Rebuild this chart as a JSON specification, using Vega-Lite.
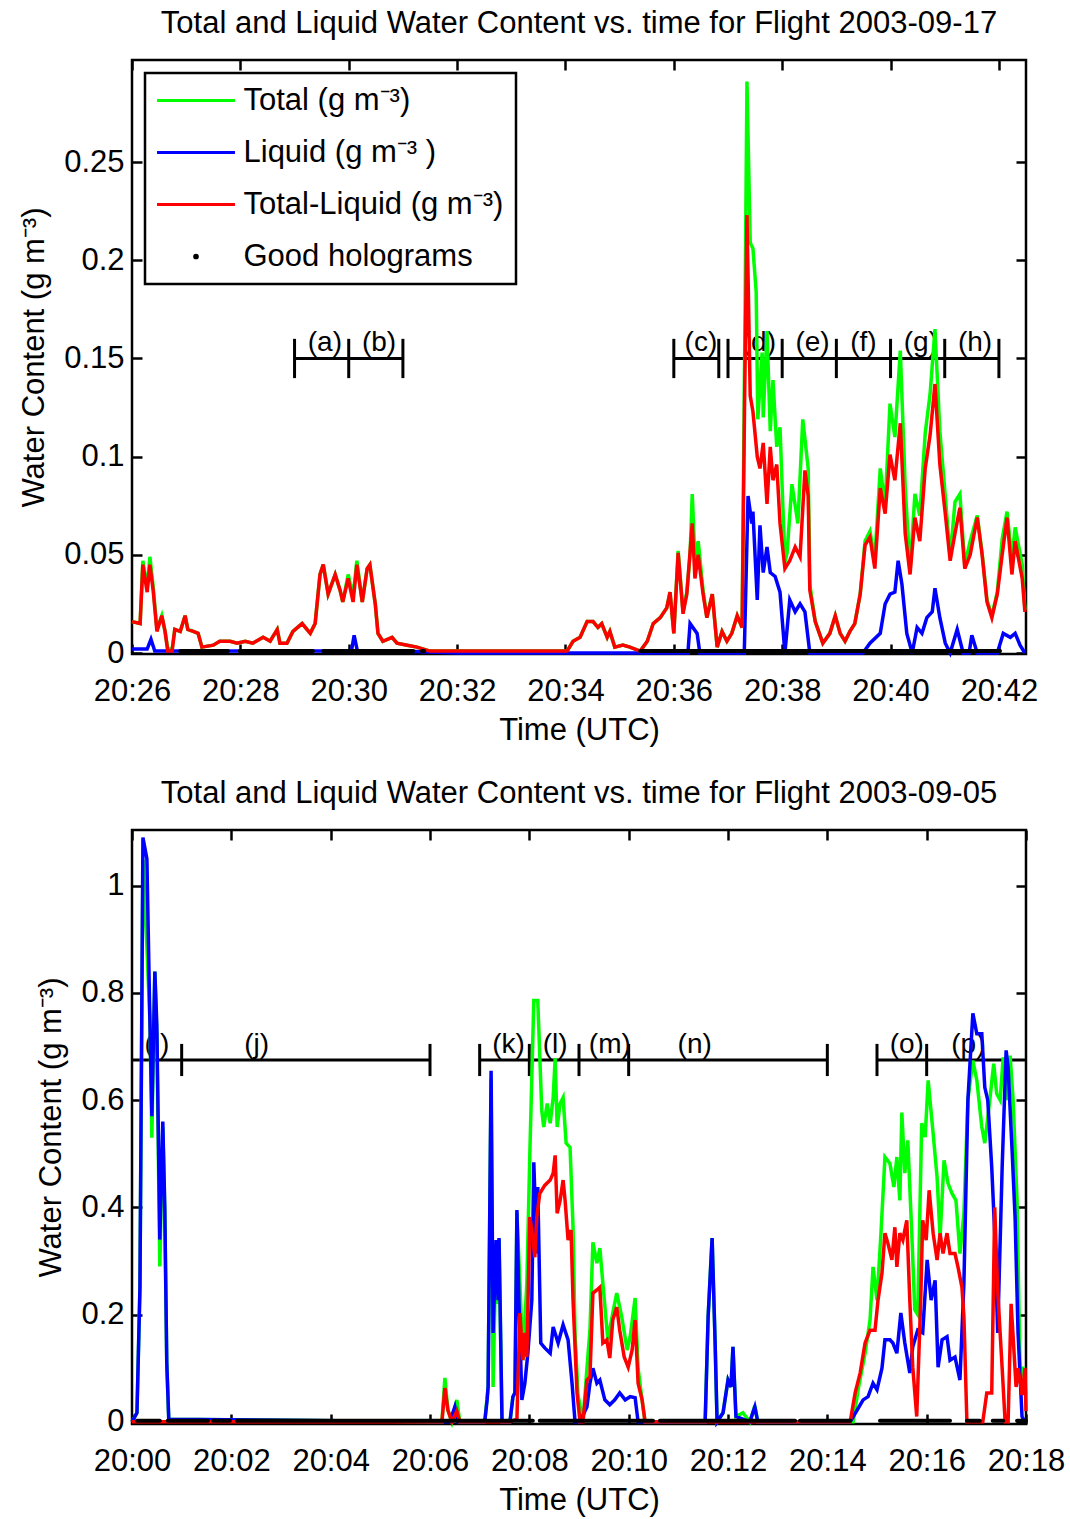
{
  "$schema": "https://vega.github.io/schema/vega-lite/v6.json",
  "background": "white",
  "padding": {"left": 17, "top": 6, "right": 10, "bottom": 5},
  "spacing": 29,
  "config": {
    "font": "Liberation Sans",
    "view": {"stroke": "black", "strokeWidth": 2.5},
    "axis": {"domain": false, "grid": false, "tickColor": "black", "tickWidth": 2.5, "tickSize": -10, "labelFont": "Liberation Sans", "labelFontSize": 31, "labelColor": "black", "titleFont": "Liberation Sans", "titleFontSize": 31, "titleFontWeight": "normal", "titleColor": "black", "labelFlush": false, "labelOverlap": false},
    "axisX": {"labelPadding": 32, "titlePadding": 9},
    "axisY": {"labelPadding": 18, "titlePadding": 13},
    "title": {"font": "Liberation Sans", "fontSize": 31, "fontWeight": "normal", "color": "black", "frame": "group", "anchor": "middle", "baseline": "alphabetic", "offset": 19}
  },
  "resolve": {"scale": {"color": "independent"}, "legend": {"color": "independent"}},
  "datasets": {
    "top": [
      {"s":"T","t":26.0,"v":0.016},{"s":"T","t":26.15,"v":0.015},{"s":"T","t":26.2,"v":0.047},{"s":"T","t":26.28,"v":0.033},{"s":"T","t":26.33,"v":0.049},{"s":"T","t":26.39,"v":0.034},{"s":"T","t":26.46,"v":0.012},{"s":"T","t":26.55,"v":0.019},{"s":"T","t":26.61,"v":0.011},{"s":"T","t":26.66,"v":0.002},{"s":"T","t":26.74,"v":0.002},{"s":"T","t":26.79,"v":0.012},{"s":"T","t":26.89,"v":0.011},{"s":"T","t":26.98,"v":0.019},{"s":"T","t":27.03,"v":0.012},{"s":"T","t":27.13,"v":0.011},{"s":"T","t":27.22,"v":0.01},{"s":"T","t":27.29,"v":0.003},{"s":"T","t":27.5,"v":0.004},{"s":"T","t":27.62,"v":0.006},{"s":"T","t":27.81,"v":0.006},{"s":"T","t":27.94,"v":0.005},{"s":"T","t":28.09,"v":0.006},{"s":"T","t":28.23,"v":0.005},{"s":"T","t":28.42,"v":0.008},{"s":"T","t":28.55,"v":0.006},{"s":"T","t":28.68,"v":0.012},{"s":"T","t":28.73,"v":0.005},{"s":"T","t":28.86,"v":0.005},{"s":"T","t":28.97,"v":0.011},{"s":"T","t":29.14,"v":0.015},{"s":"T","t":29.29,"v":0.01},{"s":"T","t":29.38,"v":0.015},{"s":"T","t":29.47,"v":0.04},{"s":"T","t":29.53,"v":0.045},{"s":"T","t":29.62,"v":0.03},{"s":"T","t":29.75,"v":0.04},{"s":"T","t":29.84,"v":0.032},{"s":"T","t":29.89,"v":0.026},{"s":"T","t":29.99,"v":0.04},{"s":"T","t":30.08,"v":0.029},{"s":"T","t":30.15,"v":0.047},{"s":"T","t":30.25,"v":0.026},{"s":"T","t":30.34,"v":0.043},{"s":"T","t":30.39,"v":0.045},{"s":"T","t":30.49,"v":0.025},{"s":"T","t":30.54,"v":0.01},{"s":"T","t":30.63,"v":0.006},{"s":"T","t":30.8,"v":0.008},{"s":"T","t":30.89,"v":0.005},{"s":"T","t":31.08,"v":0.004},{"s":"T","t":31.26,"v":0.003},{"s":"T","t":31.5,"v":0.001},{"s":"T","t":33.9,"v":0.001},{"s":"T","t":34.03,"v":0.001},{"s":"T","t":34.14,"v":0.006},{"s":"T","t":34.27,"v":0.008},{"s":"T","t":34.4,"v":0.016},{"s":"T","t":34.51,"v":0.016},{"s":"T","t":34.6,"v":0.013},{"s":"T","t":34.67,"v":0.015},{"s":"T","t":34.77,"v":0.008},{"s":"T","t":34.82,"v":0.011},{"s":"T","t":34.91,"v":0.003},{"s":"T","t":35.06,"v":0.004},{"s":"T","t":35.19,"v":0.003},{"s":"T","t":35.38,"v":0.001},{"s":"T","t":35.51,"v":0.006},{"s":"T","t":35.62,"v":0.015},{"s":"T","t":35.75,"v":0.018},{"s":"T","t":35.87,"v":0.023},{"s":"T","t":35.93,"v":0.031},{"s":"T","t":36.0,"v":0.01},{"s":"T","t":36.08,"v":0.052},{"s":"T","t":36.17,"v":0.021},{"s":"T","t":36.24,"v":0.031},{"s":"T","t":36.3,"v":0.05},{"s":"T","t":36.34,"v":0.081},{"s":"T","t":36.39,"v":0.048},{"s":"T","t":36.45,"v":0.057},{"s":"T","t":36.54,"v":0.032},{"s":"T","t":36.61,"v":0.018},{"s":"T","t":36.71,"v":0.03},{"s":"T","t":36.8,"v":0.003},{"s":"T","t":36.89,"v":0.011},{"s":"T","t":36.98,"v":0.006},{"s":"T","t":37.07,"v":0.01},{"s":"T","t":37.17,"v":0.019},{"s":"T","t":37.26,"v":0.013},{"s":"T","t":37.31,"v":0.16},{"s":"T","t":37.35,"v":0.291},{"s":"T","t":37.41,"v":0.209},{"s":"T","t":37.46,"v":0.206},{"s":"T","t":37.52,"v":0.184},{"s":"T","t":37.55,"v":0.119},{"s":"T","t":37.63,"v":0.153},{"s":"T","t":37.65,"v":0.12},{"s":"T","t":37.72,"v":0.164},{"s":"T","t":37.78,"v":0.113},{"s":"T","t":37.83,"v":0.139},{"s":"T","t":37.9,"v":0.105},{"s":"T","t":37.96,"v":0.115},{"s":"T","t":38.05,"v":0.046},{"s":"T","t":38.09,"v":0.051},{"s":"T","t":38.18,"v":0.086},{"s":"T","t":38.29,"v":0.066},{"s":"T","t":38.38,"v":0.119},{"s":"T","t":38.48,"v":0.094},{"s":"T","t":38.51,"v":0.035},{"s":"T","t":38.61,"v":0.016},{"s":"T","t":38.75,"v":0.005},{"s":"T","t":38.88,"v":0.01},{"s":"T","t":38.98,"v":0.019},{"s":"T","t":39.07,"v":0.01},{"s":"T","t":39.16,"v":0.006},{"s":"T","t":39.25,"v":0.011},{"s":"T","t":39.34,"v":0.015},{"s":"T","t":39.44,"v":0.03},{"s":"T","t":39.53,"v":0.057},{"s":"T","t":39.62,"v":0.062},{"s":"T","t":39.71,"v":0.048},{"s":"T","t":39.81,"v":0.094},{"s":"T","t":39.9,"v":0.075},{"s":"T","t":39.99,"v":0.127},{"s":"T","t":40.08,"v":0.11},{"s":"T","t":40.18,"v":0.154},{"s":"T","t":40.27,"v":0.085},{"s":"T","t":40.36,"v":0.042},{"s":"T","t":40.45,"v":0.081},{"s":"T","t":40.54,"v":0.07},{"s":"T","t":40.64,"v":0.112},{"s":"T","t":40.73,"v":0.132},{"s":"T","t":40.82,"v":0.165},{"s":"T","t":40.91,"v":0.113},{"s":"T","t":41.01,"v":0.08},{"s":"T","t":41.1,"v":0.049},{"s":"T","t":41.19,"v":0.077},{"s":"T","t":41.28,"v":0.081},{"s":"T","t":41.37,"v":0.045},{"s":"T","t":41.47,"v":0.057},{"s":"T","t":41.6,"v":0.07},{"s":"T","t":41.69,"v":0.051},{"s":"T","t":41.78,"v":0.027},{"s":"T","t":41.87,"v":0.019},{"s":"T","t":41.97,"v":0.031},{"s":"T","t":42.06,"v":0.058},{"s":"T","t":42.15,"v":0.072},{"s":"T","t":42.24,"v":0.048},{"s":"T","t":42.3,"v":0.064},{"s":"T","t":42.43,"v":0.045},{"s":"T","t":42.48,"v":0.022},
      {"s":"L","t":26.0,"v":0.002},{"s":"L","t":26.28,"v":0.002},{"s":"L","t":26.35,"v":0.007},{"s":"L","t":26.42,"v":0.001},{"s":"L","t":27.0,"v":0.001},{"s":"L","t":28.0,"v":0.001},{"s":"L","t":29.0,"v":0.001},{"s":"L","t":30.05,"v":0.001},{"s":"L","t":30.1,"v":0.009},{"s":"L","t":30.16,"v":0.001},{"s":"L","t":31.0,"v":0.001},{"s":"L","t":32.0,"v":0.0},{"s":"L","t":36.26,"v":0.0},{"s":"L","t":36.3,"v":0.015},{"s":"L","t":36.43,"v":0.01},{"s":"L","t":36.48,"v":0.0},{"s":"L","t":37.3,"v":0.0},{"s":"L","t":37.37,"v":0.08},{"s":"L","t":37.44,"v":0.066},{"s":"L","t":37.46,"v":0.072},{"s":"L","t":37.54,"v":0.027},{"s":"L","t":37.59,"v":0.065},{"s":"L","t":37.65,"v":0.041},{"s":"L","t":37.72,"v":0.054},{"s":"L","t":37.78,"v":0.041},{"s":"L","t":37.87,"v":0.039},{"s":"L","t":37.96,"v":0.031},{"s":"L","t":38.05,"v":0.0},{"s":"L","t":38.14,"v":0.027},{"s":"L","t":38.24,"v":0.021},{"s":"L","t":38.33,"v":0.025},{"s":"L","t":38.42,"v":0.021},{"s":"L","t":38.51,"v":0.0},{"s":"L","t":39.49,"v":0.0},{"s":"L","t":39.62,"v":0.005},{"s":"L","t":39.81,"v":0.01},{"s":"L","t":39.9,"v":0.025},{"s":"L","t":39.99,"v":0.03},{"s":"L","t":40.08,"v":0.031},{"s":"L","t":40.14,"v":0.047},{"s":"L","t":40.21,"v":0.035},{"s":"L","t":40.3,"v":0.01},{"s":"L","t":40.4,"v":0.0},{"s":"L","t":40.49,"v":0.013},{"s":"L","t":40.58,"v":0.01},{"s":"L","t":40.67,"v":0.018},{"s":"L","t":40.77,"v":0.021},{"s":"L","t":40.82,"v":0.033},{"s":"L","t":40.91,"v":0.018},{"s":"L","t":41.01,"v":0.005},{"s":"L","t":41.1,"v":0.0},{"s":"L","t":41.23,"v":0.012},{"s":"L","t":41.34,"v":0.0},{"s":"L","t":41.45,"v":0.0},{"s":"L","t":41.5,"v":0.009},{"s":"L","t":41.6,"v":0.0},{"s":"L","t":41.97,"v":0.0},{"s":"L","t":42.08,"v":0.01},{"s":"L","t":42.21,"v":0.008},{"s":"L","t":42.3,"v":0.01},{"s":"L","t":42.39,"v":0.004},{"s":"L","t":42.48,"v":0.0},
      {"s":"R","t":26.0,"v":0.016},{"s":"R","t":26.15,"v":0.015},{"s":"R","t":26.2,"v":0.045},{"s":"R","t":26.28,"v":0.031},{"s":"R","t":26.33,"v":0.045},{"s":"R","t":26.39,"v":0.032},{"s":"R","t":26.46,"v":0.011},{"s":"R","t":26.55,"v":0.019},{"s":"R","t":26.61,"v":0.011},{"s":"R","t":26.66,"v":0.001},{"s":"R","t":26.74,"v":0.001},{"s":"R","t":26.79,"v":0.012},{"s":"R","t":26.89,"v":0.011},{"s":"R","t":26.98,"v":0.019},{"s":"R","t":27.03,"v":0.012},{"s":"R","t":27.13,"v":0.011},{"s":"R","t":27.22,"v":0.01},{"s":"R","t":27.29,"v":0.003},{"s":"R","t":27.5,"v":0.004},{"s":"R","t":27.62,"v":0.006},{"s":"R","t":27.81,"v":0.006},{"s":"R","t":27.94,"v":0.005},{"s":"R","t":28.09,"v":0.006},{"s":"R","t":28.23,"v":0.005},{"s":"R","t":28.42,"v":0.008},{"s":"R","t":28.55,"v":0.006},{"s":"R","t":28.68,"v":0.012},{"s":"R","t":28.73,"v":0.005},{"s":"R","t":28.86,"v":0.005},{"s":"R","t":28.97,"v":0.011},{"s":"R","t":29.14,"v":0.015},{"s":"R","t":29.29,"v":0.01},{"s":"R","t":29.38,"v":0.015},{"s":"R","t":29.47,"v":0.04},{"s":"R","t":29.53,"v":0.045},{"s":"R","t":29.62,"v":0.03},{"s":"R","t":29.75,"v":0.04},{"s":"R","t":29.84,"v":0.032},{"s":"R","t":29.89,"v":0.026},{"s":"R","t":29.99,"v":0.038},{"s":"R","t":30.08,"v":0.026},{"s":"R","t":30.15,"v":0.045},{"s":"R","t":30.25,"v":0.026},{"s":"R","t":30.34,"v":0.043},{"s":"R","t":30.39,"v":0.045},{"s":"R","t":30.49,"v":0.025},{"s":"R","t":30.54,"v":0.01},{"s":"R","t":30.63,"v":0.006},{"s":"R","t":30.8,"v":0.008},{"s":"R","t":30.89,"v":0.005},{"s":"R","t":31.08,"v":0.004},{"s":"R","t":31.26,"v":0.003},{"s":"R","t":31.5,"v":0.001},{"s":"R","t":33.9,"v":0.001},{"s":"R","t":34.03,"v":0.001},{"s":"R","t":34.14,"v":0.006},{"s":"R","t":34.27,"v":0.008},{"s":"R","t":34.4,"v":0.016},{"s":"R","t":34.51,"v":0.016},{"s":"R","t":34.6,"v":0.013},{"s":"R","t":34.67,"v":0.015},{"s":"R","t":34.77,"v":0.008},{"s":"R","t":34.82,"v":0.011},{"s":"R","t":34.91,"v":0.003},{"s":"R","t":35.06,"v":0.004},{"s":"R","t":35.19,"v":0.003},{"s":"R","t":35.38,"v":0.001},{"s":"R","t":35.51,"v":0.006},{"s":"R","t":35.62,"v":0.015},{"s":"R","t":35.75,"v":0.018},{"s":"R","t":35.87,"v":0.023},{"s":"R","t":35.93,"v":0.031},{"s":"R","t":36.0,"v":0.01},{"s":"R","t":36.08,"v":0.051},{"s":"R","t":36.17,"v":0.02},{"s":"R","t":36.24,"v":0.03},{"s":"R","t":36.34,"v":0.066},{"s":"R","t":36.39,"v":0.038},{"s":"R","t":36.45,"v":0.05},{"s":"R","t":36.54,"v":0.03},{"s":"R","t":36.61,"v":0.018},{"s":"R","t":36.71,"v":0.03},{"s":"R","t":36.8,"v":0.003},{"s":"R","t":36.89,"v":0.011},{"s":"R","t":36.98,"v":0.006},{"s":"R","t":37.07,"v":0.01},{"s":"R","t":37.17,"v":0.019},{"s":"R","t":37.26,"v":0.013},{"s":"R","t":37.31,"v":0.137},{"s":"R","t":37.35,"v":0.223},{"s":"R","t":37.41,"v":0.131},{"s":"R","t":37.46,"v":0.123},{"s":"R","t":37.54,"v":0.1},{"s":"R","t":37.59,"v":0.094},{"s":"R","t":37.65,"v":0.107},{"s":"R","t":37.72,"v":0.076},{"s":"R","t":37.78,"v":0.105},{"s":"R","t":37.83,"v":0.088},{"s":"R","t":37.9,"v":0.096},{"s":"R","t":37.96,"v":0.066},{"s":"R","t":38.05,"v":0.043},{"s":"R","t":38.14,"v":0.047},{"s":"R","t":38.24,"v":0.054},{"s":"R","t":38.33,"v":0.049},{"s":"R","t":38.42,"v":0.093},{"s":"R","t":38.48,"v":0.08},{"s":"R","t":38.51,"v":0.032},{"s":"R","t":38.61,"v":0.016},{"s":"R","t":38.75,"v":0.005},{"s":"R","t":38.88,"v":0.01},{"s":"R","t":38.98,"v":0.019},{"s":"R","t":39.07,"v":0.01},{"s":"R","t":39.16,"v":0.006},{"s":"R","t":39.25,"v":0.011},{"s":"R","t":39.34,"v":0.015},{"s":"R","t":39.44,"v":0.03},{"s":"R","t":39.53,"v":0.055},{"s":"R","t":39.62,"v":0.059},{"s":"R","t":39.71,"v":0.043},{"s":"R","t":39.81,"v":0.084},{"s":"R","t":39.9,"v":0.071},{"s":"R","t":39.99,"v":0.101},{"s":"R","t":40.08,"v":0.088},{"s":"R","t":40.18,"v":0.117},{"s":"R","t":40.27,"v":0.061},{"s":"R","t":40.36,"v":0.04},{"s":"R","t":40.45,"v":0.069},{"s":"R","t":40.54,"v":0.057},{"s":"R","t":40.64,"v":0.094},{"s":"R","t":40.73,"v":0.111},{"s":"R","t":40.82,"v":0.137},{"s":"R","t":40.91,"v":0.096},{"s":"R","t":41.01,"v":0.071},{"s":"R","t":41.1,"v":0.047},{"s":"R","t":41.19,"v":0.061},{"s":"R","t":41.28,"v":0.074},{"s":"R","t":41.37,"v":0.043},{"s":"R","t":41.47,"v":0.05},{"s":"R","t":41.6,"v":0.069},{"s":"R","t":41.69,"v":0.05},{"s":"R","t":41.78,"v":0.026},{"s":"R","t":41.87,"v":0.018},{"s":"R","t":41.97,"v":0.03},{"s":"R","t":42.06,"v":0.05},{"s":"R","t":42.15,"v":0.069},{"s":"R","t":42.24,"v":0.04},{"s":"R","t":42.3,"v":0.057},{"s":"R","t":42.43,"v":0.038},{"s":"R","t":42.48,"v":0.021}
    ],
    "bottom": [
      {"s":"T","t":0.0,"v":0.0},{"s":"T","t":0.1,"v":0.017},{"s":"T","t":0.16,"v":0.25},{"s":"T","t":0.22,"v":1.05},{"s":"T","t":0.28,"v":0.93},{"s":"T","t":0.36,"v":0.75},{"s":"T","t":0.4,"v":0.53},{"s":"T","t":0.46,"v":0.84},{"s":"T","t":0.5,"v":0.72},{"s":"T","t":0.56,"v":0.29},{"s":"T","t":0.62,"v":0.55},{"s":"T","t":0.66,"v":0.39},{"s":"T","t":0.7,"v":0.11},{"s":"T","t":0.74,"v":0.005},{"s":"T","t":6.24,"v":0.0},{"s":"T","t":6.3,"v":0.082},{"s":"T","t":6.36,"v":0.022},{"s":"T","t":6.44,"v":0.0},{"s":"T","t":6.54,"v":0.041},{"s":"T","t":6.6,"v":0.0},{"s":"T","t":7.09,"v":0.0},{"s":"T","t":7.11,"v":0.007},{"s":"T","t":7.17,"v":0.065},{"s":"T","t":7.23,"v":0.64},{"s":"T","t":7.27,"v":0.065},{"s":"T","t":7.33,"v":0.33},{"s":"T","t":7.37,"v":0.22},{"s":"T","t":7.39,"v":0.34},{"s":"T","t":7.45,"v":0.0},{"s":"T","t":7.61,"v":0.0},{"s":"T","t":7.67,"v":0.047},{"s":"T","t":7.71,"v":0.054},{"s":"T","t":7.75,"v":0.39},{"s":"T","t":7.81,"v":0.259},{"s":"T","t":7.87,"v":0.115},{"s":"T","t":7.95,"v":0.259},{"s":"T","t":8.01,"v":0.5},{"s":"T","t":8.09,"v":0.786},{"s":"T","t":8.17,"v":0.786},{"s":"T","t":8.25,"v":0.581},{"s":"T","t":8.29,"v":0.55},{"s":"T","t":8.36,"v":0.594},{"s":"T","t":8.42,"v":0.557},{"s":"T","t":8.48,"v":0.605},{"s":"T","t":8.52,"v":0.678},{"s":"T","t":8.56,"v":0.55},{"s":"T","t":8.62,"v":0.594},{"s":"T","t":8.68,"v":0.605},{"s":"T","t":8.74,"v":0.52},{"s":"T","t":8.82,"v":0.512},{"s":"T","t":8.88,"v":0.363},{"s":"T","t":8.92,"v":0.166},{"s":"T","t":8.98,"v":0.05},{"s":"T","t":9.08,"v":0.0},{"s":"T","t":9.16,"v":0.1},{"s":"T","t":9.22,"v":0.17},{"s":"T","t":9.28,"v":0.335},{"s":"T","t":9.36,"v":0.296},{"s":"T","t":9.42,"v":0.324},{"s":"T","t":9.48,"v":0.259},{"s":"T","t":9.58,"v":0.153},{"s":"T","t":9.68,"v":0.203},{"s":"T","t":9.76,"v":0.24},{"s":"T","t":9.86,"v":0.196},{"s":"T","t":9.97,"v":0.134},{"s":"T","t":10.03,"v":0.159},{"s":"T","t":10.13,"v":0.231},{"s":"T","t":10.19,"v":0.1},{"s":"T","t":10.27,"v":0.041},{"s":"T","t":10.33,"v":0.0},{"s":"T","t":11.54,"v":0.0},{"s":"T","t":11.6,"v":0.196},{"s":"T","t":11.68,"v":0.343},{"s":"T","t":11.74,"v":0.15},{"s":"T","t":11.78,"v":0.0},{"s":"T","t":11.9,"v":0.017},{"s":"T","t":12.0,"v":0.078},{"s":"T","t":12.06,"v":0.065},{"s":"T","t":12.1,"v":0.14},{"s":"T","t":12.16,"v":0.01},{"s":"T","t":12.3,"v":0.017},{"s":"T","t":12.44,"v":0.0},{"s":"T","t":12.54,"v":0.03},{"s":"T","t":12.6,"v":0.0},{"s":"T","t":14.46,"v":0.0},{"s":"T","t":14.52,"v":0.0},{"s":"T","t":14.62,"v":0.06},{"s":"T","t":14.76,"v":0.128},{"s":"T","t":14.86,"v":0.19},{"s":"T","t":14.92,"v":0.289},{"s":"T","t":15.0,"v":0.227},{"s":"T","t":15.08,"v":0.352},{"s":"T","t":15.16,"v":0.494},{"s":"T","t":15.26,"v":0.482},{"s":"T","t":15.34,"v":0.438},{"s":"T","t":15.4,"v":0.494},{"s":"T","t":15.46,"v":0.413},{"s":"T","t":15.5,"v":0.577},{"s":"T","t":15.56,"v":0.464},{"s":"T","t":15.62,"v":0.525},{"s":"T","t":15.7,"v":0.352},{"s":"T","t":15.76,"v":0.209},{"s":"T","t":15.82,"v":0.2},{"s":"T","t":15.9,"v":0.557},{"s":"T","t":15.97,"v":0.531},{"s":"T","t":16.03,"v":0.637},{"s":"T","t":16.13,"v":0.538},{"s":"T","t":16.21,"v":0.456},{"s":"T","t":16.27,"v":0.345},{"s":"T","t":16.35,"v":0.488},{"s":"T","t":16.43,"v":0.445},{"s":"T","t":16.51,"v":0.426},{"s":"T","t":16.59,"v":0.413},{"s":"T","t":16.67,"v":0.314},{"s":"T","t":16.75,"v":0.389},{"s":"T","t":16.83,"v":0.6},{"s":"T","t":16.93,"v":0.674},{"s":"T","t":17.01,"v":0.637},{"s":"T","t":17.11,"v":0.55},{"s":"T","t":17.17,"v":0.52},{"s":"T","t":17.27,"v":0.6},{"s":"T","t":17.35,"v":0.668},{"s":"T","t":17.41,"v":0.612},{"s":"T","t":17.48,"v":0.6},{"s":"T","t":17.54,"v":0.68},{"s":"T","t":17.62,"v":0.6},{"s":"T","t":17.68,"v":0.683},{"s":"T","t":17.74,"v":0.6},{"s":"T","t":17.82,"v":0.413},{"s":"T","t":17.88,"v":0.1},{"s":"T","t":17.94,"v":0.1},{"s":"T","t":18.0,"v":0.05},
      {"s":"L","t":0.0,"v":0.0},{"s":"L","t":0.1,"v":0.017},{"s":"L","t":0.16,"v":0.25},{"s":"L","t":0.22,"v":1.09},{"s":"L","t":0.3,"v":1.05},{"s":"L","t":0.36,"v":0.75},{"s":"L","t":0.4,"v":0.57},{"s":"L","t":0.46,"v":0.84},{"s":"L","t":0.5,"v":0.74},{"s":"L","t":0.56,"v":0.34},{"s":"L","t":0.62,"v":0.56},{"s":"L","t":0.66,"v":0.4},{"s":"L","t":0.7,"v":0.11},{"s":"L","t":0.74,"v":0.005},{"s":"L","t":6.4,"v":0.0},{"s":"L","t":6.5,"v":0.028},{"s":"L","t":6.56,"v":0.0},{"s":"L","t":7.09,"v":0.0},{"s":"L","t":7.11,"v":0.007},{"s":"L","t":7.15,"v":0.041},{"s":"L","t":7.17,"v":0.065},{"s":"L","t":7.23,"v":0.655},{"s":"L","t":7.27,"v":0.166},{"s":"L","t":7.33,"v":0.339},{"s":"L","t":7.37,"v":0.227},{"s":"L","t":7.39,"v":0.343},{"s":"L","t":7.45,"v":0.0},{"s":"L","t":7.61,"v":0.0},{"s":"L","t":7.67,"v":0.047},{"s":"L","t":7.71,"v":0.054},{"s":"L","t":7.75,"v":0.395},{"s":"L","t":7.79,"v":0.227},{"s":"L","t":7.85,"v":0.041},{"s":"L","t":7.91,"v":0.072},{"s":"L","t":7.97,"v":0.128},{"s":"L","t":8.05,"v":0.227},{"s":"L","t":8.09,"v":0.484},{"s":"L","t":8.15,"v":0.314},{"s":"L","t":8.17,"v":0.438},{"s":"L","t":8.23,"v":0.147},{"s":"L","t":8.31,"v":0.138},{"s":"L","t":8.42,"v":0.128},{"s":"L","t":8.48,"v":0.177},{"s":"L","t":8.58,"v":0.147},{"s":"L","t":8.68,"v":0.181},{"s":"L","t":8.78,"v":0.153},{"s":"L","t":8.86,"v":0.072},{"s":"L","t":8.92,"v":0.0},{"s":"L","t":9.02,"v":0.0},{"s":"L","t":9.16,"v":0.028},{"s":"L","t":9.22,"v":0.072},{"s":"L","t":9.28,"v":0.1},{"s":"L","t":9.36,"v":0.072},{"s":"L","t":9.42,"v":0.078},{"s":"L","t":9.52,"v":0.041},{"s":"L","t":9.62,"v":0.032},{"s":"L","t":9.72,"v":0.041},{"s":"L","t":9.82,"v":0.054},{"s":"L","t":9.93,"v":0.041},{"s":"L","t":10.03,"v":0.047},{"s":"L","t":10.13,"v":0.045},{"s":"L","t":10.19,"v":0.0},{"s":"L","t":11.54,"v":0.0},{"s":"L","t":11.6,"v":0.196},{"s":"L","t":11.68,"v":0.343},{"s":"L","t":11.74,"v":0.15},{"s":"L","t":11.78,"v":0.0},{"s":"L","t":11.9,"v":0.017},{"s":"L","t":12.0,"v":0.078},{"s":"L","t":12.06,"v":0.065},{"s":"L","t":12.1,"v":0.14},{"s":"L","t":12.16,"v":0.01},{"s":"L","t":12.3,"v":0.005},{"s":"L","t":12.44,"v":0.0},{"s":"L","t":12.54,"v":0.028},{"s":"L","t":12.6,"v":0.0},{"s":"L","t":14.46,"v":0.0},{"s":"L","t":14.6,"v":0.022},{"s":"L","t":14.72,"v":0.041},{"s":"L","t":14.82,"v":0.047},{"s":"L","t":14.92,"v":0.072},{"s":"L","t":15.0,"v":0.06},{"s":"L","t":15.1,"v":0.1},{"s":"L","t":15.16,"v":0.153},{"s":"L","t":15.26,"v":0.153},{"s":"L","t":15.32,"v":0.147},{"s":"L","t":15.4,"v":0.128},{"s":"L","t":15.48,"v":0.203},{"s":"L","t":15.56,"v":0.147},{"s":"L","t":15.66,"v":0.091},{"s":"L","t":15.72,"v":0.14},{"s":"L","t":15.82,"v":0.171},{"s":"L","t":15.92,"v":0.166},{"s":"L","t":16.01,"v":0.302},{"s":"L","t":16.09,"v":0.227},{"s":"L","t":16.17,"v":0.264},{"s":"L","t":16.23,"v":0.102},{"s":"L","t":16.31,"v":0.153},{"s":"L","t":16.41,"v":0.159},{"s":"L","t":16.47,"v":0.115},{"s":"L","t":16.57,"v":0.121},{"s":"L","t":16.67,"v":0.078},{"s":"L","t":16.75,"v":0.259},{"s":"L","t":16.83,"v":0.6},{"s":"L","t":16.93,"v":0.762},{"s":"L","t":17.01,"v":0.724},{"s":"L","t":17.11,"v":0.724},{"s":"L","t":17.17,"v":0.624},{"s":"L","t":17.23,"v":0.6},{"s":"L","t":17.31,"v":0.475},{"s":"L","t":17.37,"v":0.352},{"s":"L","t":17.43,"v":0.166},{"s":"L","t":17.52,"v":0.475},{"s":"L","t":17.6,"v":0.693},{"s":"L","t":17.64,"v":0.661},{"s":"L","t":17.72,"v":0.506},{"s":"L","t":17.78,"v":0.382},{"s":"L","t":17.84,"v":0.166},{"s":"L","t":17.92,"v":0.01},{"s":"L","t":17.98,"v":0.0},
      {"s":"R","t":0.0,"v":0.0},{"s":"R","t":6.24,"v":0.0},{"s":"R","t":6.3,"v":0.063},{"s":"R","t":6.36,"v":0.022},{"s":"R","t":6.44,"v":0.0},{"s":"R","t":6.54,"v":0.02},{"s":"R","t":6.6,"v":0.0},{"s":"R","t":7.61,"v":0.0},{"s":"R","t":7.75,"v":0.005},{"s":"R","t":7.81,"v":0.203},{"s":"R","t":7.87,"v":0.115},{"s":"R","t":7.91,"v":0.166},{"s":"R","t":7.95,"v":0.121},{"s":"R","t":8.01,"v":0.382},{"s":"R","t":8.07,"v":0.345},{"s":"R","t":8.11,"v":0.307},{"s":"R","t":8.15,"v":0.382},{"s":"R","t":8.21,"v":0.426},{"s":"R","t":8.31,"v":0.441},{"s":"R","t":8.42,"v":0.451},{"s":"R","t":8.48,"v":0.464},{"s":"R","t":8.52,"v":0.497},{"s":"R","t":8.56,"v":0.389},{"s":"R","t":8.62,"v":0.413},{"s":"R","t":8.68,"v":0.451},{"s":"R","t":8.72,"v":0.413},{"s":"R","t":8.78,"v":0.339},{"s":"R","t":8.84,"v":0.358},{"s":"R","t":8.88,"v":0.227},{"s":"R","t":8.96,"v":0.054},{"s":"R","t":9.02,"v":0.0},{"s":"R","t":9.08,"v":0.0},{"s":"R","t":9.16,"v":0.078},{"s":"R","t":9.22,"v":0.084},{"s":"R","t":9.28,"v":0.24},{"s":"R","t":9.36,"v":0.246},{"s":"R","t":9.42,"v":0.251},{"s":"R","t":9.48,"v":0.147},{"s":"R","t":9.56,"v":0.153},{"s":"R","t":9.62,"v":0.119},{"s":"R","t":9.68,"v":0.19},{"s":"R","t":9.76,"v":0.214},{"s":"R","t":9.82,"v":0.171},{"s":"R","t":9.91,"v":0.121},{"s":"R","t":9.99,"v":0.102},{"s":"R","t":10.07,"v":0.134},{"s":"R","t":10.13,"v":0.19},{"s":"R","t":10.19,"v":0.072},{"s":"R","t":10.27,"v":0.041},{"s":"R","t":10.33,"v":0.0},{"s":"R","t":14.46,"v":0.0},{"s":"R","t":14.56,"v":0.054},{"s":"R","t":14.66,"v":0.091},{"s":"R","t":14.76,"v":0.147},{"s":"R","t":14.86,"v":0.171},{"s":"R","t":14.96,"v":0.171},{"s":"R","t":15.02,"v":0.227},{"s":"R","t":15.1,"v":0.277},{"s":"R","t":15.16,"v":0.352},{"s":"R","t":15.22,"v":0.333},{"s":"R","t":15.3,"v":0.302},{"s":"R","t":15.36,"v":0.363},{"s":"R","t":15.4,"v":0.289},{"s":"R","t":15.46,"v":0.352},{"s":"R","t":15.52,"v":0.339},{"s":"R","t":15.6,"v":0.376},{"s":"R","t":15.66,"v":0.227},{"s":"R","t":15.72,"v":0.102},{"s":"R","t":15.8,"v":0.01},{"s":"R","t":15.88,"v":0.227},{"s":"R","t":15.92,"v":0.376},{"s":"R","t":15.99,"v":0.339},{"s":"R","t":16.05,"v":0.432},{"s":"R","t":16.13,"v":0.352},{"s":"R","t":16.21,"v":0.302},{"s":"R","t":16.27,"v":0.352},{"s":"R","t":16.33,"v":0.314},{"s":"R","t":16.41,"v":0.352},{"s":"R","t":16.47,"v":0.314},{"s":"R","t":16.57,"v":0.314},{"s":"R","t":16.63,"v":0.289},{"s":"R","t":16.71,"v":0.251},{"s":"R","t":16.75,"v":0.196},{"s":"R","t":16.81,"v":0.0},{"s":"R","t":17.13,"v":0.0},{"s":"R","t":17.21,"v":0.054},{"s":"R","t":17.31,"v":0.054},{"s":"R","t":17.37,"v":0.4},{"s":"R","t":17.43,"v":0.246},{"s":"R","t":17.52,"v":0.1},{"s":"R","t":17.58,"v":0.0},{"s":"R","t":17.64,"v":0.0},{"s":"R","t":17.7,"v":0.22},{"s":"R","t":17.74,"v":0.16},{"s":"R","t":17.8,"v":0.065},{"s":"R","t":17.84,"v":0.1},{"s":"R","t":17.92,"v":0.05},{"s":"R","t":17.98,"v":0.1},{"s":"R","t":18.0,"v":0.02}
    ],
    "topHolo": [{"a":26.89,"b":27.77},{"a":27.99,"b":29.34},{"a":29.53,"b":31.19},{"a":31.35,"b":31.39},{"a":35.38,"b":42.02}],
    "bottomHolo": [{"a":0.1,"b":0.56},{"a":0.72,"b":1.53},{"a":1.63,"b":1.97},{"a":2.11,"b":8.07},{"a":8.21,"b":10.49},{"a":10.63,"b":13.35},{"a":13.45,"b":14.46},{"a":15.06,"b":16.47},{"a":16.81,"b":17.07},{"a":17.33,"b":17.54},{"a":17.82,"b":18.0}],
    "topBars": [{"a":29,"b":31},{"a":36,"b":36.83},{"a":37,"b":42}],
    "bottomBars": [{"a":0,"b":6},{"a":7,"b":14},{"a":15,"b":18}],
    "topTicks": [{"t":29},{"t":30},{"t":31},{"t":36},{"t":36.83},{"t":37},{"t":38},{"t":39},{"t":40},{"t":41},{"t":42}],
    "bottomTicks": [{"t":1},{"t":6},{"t":7},{"t":8},{"t":9},{"t":10},{"t":14},{"t":15},{"t":16}],
    "topLabels": [{"t":29.56,"lab":"(a)"},{"t":30.56,"lab":"(b)"},{"t":36.5,"lab":"(c)"},{"t":37.57,"lab":"(d)"},{"t":38.56,"lab":"(e)"},{"t":39.5,"lab":"(f)"},{"t":40.56,"lab":"(g)"},{"t":41.56,"lab":"(h)"}],
    "bottomLabels": [{"t":0.5,"lab":"(i)"},{"t":2.51,"lab":"(j)"},{"t":7.58,"lab":"(k)"},{"t":8.52,"lab":"(l)"},{"t":9.62,"lab":"(m)"},{"t":11.33,"lab":"(n)"},{"t":15.6,"lab":"(o)"},{"t":16.84,"lab":"(p)"}]
  },
  "vconcat": [
    {
      "width": 894,
      "height": 594,
      "title": {"text": "Total and Liquid Water Content vs. time for Flight 2003-09-17"},
      "resolve": {"axis": {"x": "independent", "y": "independent"}},
      "layer": [
        {
          "data": {"name": "topBars"},
          "mark": {"type": "rule", "strokeWidth": 3, "color": "black"},
          "encoding": {
            "x": {"field": "a", "type": "quantitative", "scale": {"domain": [26, 42.5], "nice": false, "zero": false}, "axis": null},
            "x2": {"field": "b"},
            "y": {"datum": 0.15, "type": "quantitative", "scale": {"domain": [-0.0005, 0.302], "nice": false, "zero": false}, "axis": null}
          }
        },
        {
          "data": {"name": "topTicks"},
          "mark": {"type": "rule", "strokeWidth": 3, "color": "black"},
          "encoding": {
            "x": {"field": "t", "type": "quantitative", "axis": null},
            "y": {"datum": 0.14, "type": "quantitative", "axis": null},
            "y2": {"datum": 0.16}
          }
        },
        {
          "data": {"name": "topLabels"},
          "mark": {"type": "text", "fontSize": 28, "baseline": "bottom", "dy": -1, "font": "Liberation Sans", "color": "black"},
          "encoding": {
            "x": {"field": "t", "type": "quantitative", "axis": null},
            "y": {"datum": 0.15, "type": "quantitative", "axis": null},
            "text": {"field": "lab"}
          }
        },
        {
          "data": {"name": "top"},
          "mark": {"type": "line", "strokeWidth": 3.5},
          "encoding": {
            "x": {"field": "t", "type": "quantitative", "scale": {"domain": [26, 42.5], "nice": false, "zero": false}, "axis": {"orient": "bottom", "title": "Time (UTC)", "values": [26, 28, 30, 32, 34, 36, 38, 40, 42], "labelExpr": "'20:' + (datum.value < 10 ? '0' : '') + datum.value"}},
            "y": {"field": "v", "type": "quantitative", "scale": {"domain": [-0.0005, 0.302], "nice": false, "zero": false}, "axis": {"orient": "left", "title": "Water Content (g m⁻³)", "values": [0, 0.05, 0.1, 0.15, 0.2, 0.25], "labelExpr": "'' + datum.value"}},
            "color": {
              "field": "s", "type": "nominal",
              "scale": {"domain": ["T", "L", "R", "H"], "range": ["#00ff00", "#0000ff", "#ff0000", "#000000"]},
              "legend": {
                "title": null, "orient": "none", "legendX": 13, "legendY": 13, "direction": "vertical",
                "padding": 12, "strokeColor": "black", "fillColor": "white",
                "labelFont": "Liberation Sans", "labelFontSize": 31, "labelColor": "black", "labelLimit": 500,
                "symbolType": "M-4.33,0H4.33", "symbolSize": 324, "symbolStrokeWidth": 3, "symbolOffset": 23.5, "labelOffset": 32, "rowPadding": 20,
                "labelExpr": "datum.label == 'T' ? 'Total (g m⁻³)' : datum.label == 'L' ? 'Liquid (g m⁻³ )' : datum.label == 'R' ? 'Total-Liquid (g m⁻³)' : 'Good holograms'",
                "encode": {
                  "symbols": {"update": {
                    "shape": [{"test": "datum.value == 'H'", "value": "M-0.15,0A0.15,0.15,0,1,1,0.15,0A0.15,0.15,0,1,1,-0.15,0Z"}, {"value": "M-4.33,0H4.33"}],
                    "fill": [{"test": "datum.value == 'H'", "value": "black"}, {"value": "transparent"}]
                  }},
                  "legend": {"update": {"strokeWidth": {"value": 2.5}}}
                }
              }
            }
          }
        },
        {
          "data": {"name": "topHolo"},
          "mark": {"type": "rule", "strokeWidth": 4, "color": "black", "strokeCap": "round"},
          "encoding": {
            "x": {"field": "a", "type": "quantitative", "axis": {"orient": "top", "labels": false, "title": null, "values": [26, 28, 30, 32, 34, 36, 38, 40, 42]}},
            "x2": {"field": "b"},
            "y": {"datum": 0.001, "type": "quantitative", "axis": {"orient": "right", "labels": false, "title": null, "values": [0, 0.05, 0.1, 0.15, 0.2, 0.25]}}
          }
        }
      ]
    },
    {
      "width": 894,
      "height": 594,
      "title": {"text": "Total and Liquid Water Content vs. time for Flight 2003-09-05"},
      "resolve": {"axis": {"x": "independent", "y": "independent"}},
      "layer": [
        {
          "data": {"name": "bottomBars"},
          "mark": {"type": "rule", "strokeWidth": 3, "color": "black"},
          "encoding": {
            "x": {"field": "a", "type": "quantitative", "scale": {"domain": [0, 18], "nice": false, "zero": false}, "axis": null},
            "x2": {"field": "b"},
            "y": {"datum": 0.675, "type": "quantitative", "scale": {"domain": [-0.004, 1.104], "nice": false, "zero": false}, "axis": null}
          }
        },
        {
          "data": {"name": "bottomTicks"},
          "mark": {"type": "rule", "strokeWidth": 3, "color": "black"},
          "encoding": {
            "x": {"field": "t", "type": "quantitative", "axis": null},
            "y": {"datum": 0.645, "type": "quantitative", "axis": null},
            "y2": {"datum": 0.705}
          }
        },
        {
          "data": {"name": "bottomLabels"},
          "mark": {"type": "text", "fontSize": 28, "baseline": "bottom", "dy": -1, "font": "Liberation Sans", "color": "black"},
          "encoding": {
            "x": {"field": "t", "type": "quantitative", "axis": null},
            "y": {"datum": 0.675, "type": "quantitative", "axis": null},
            "text": {"field": "lab"}
          }
        },
        {
          "data": {"name": "bottom"},
          "mark": {"type": "line", "strokeWidth": 3.5},
          "encoding": {
            "x": {"field": "t", "type": "quantitative", "scale": {"domain": [0, 18], "nice": false, "zero": false}, "axis": {"orient": "bottom", "title": "Time (UTC)", "values": [0, 2, 4, 6, 8, 10, 12, 14, 16, 18], "labelExpr": "'20:' + (datum.value < 10 ? '0' : '') + datum.value"}},
            "y": {"field": "v", "type": "quantitative", "scale": {"domain": [-0.004, 1.104], "nice": false, "zero": false}, "axis": {"orient": "left", "title": "Water Content (g m⁻³)", "values": [0, 0.2, 0.4, 0.6, 0.8, 1], "labelExpr": "'' + datum.value"}},
            "color": {
              "field": "s", "type": "nominal",
              "scale": {"domain": ["T", "L", "R", "H"], "range": ["#00ff00", "#0000ff", "#ff0000", "#000000"]},
              "legend": null
            }
          }
        },
        {
          "data": {"name": "bottomHolo"},
          "mark": {"type": "rule", "strokeWidth": 4, "color": "black", "strokeCap": "round"},
          "encoding": {
            "x": {"field": "a", "type": "quantitative", "axis": {"orient": "top", "labels": false, "title": null, "values": [0, 2, 4, 6, 8, 10, 12, 14, 16, 18]}},
            "x2": {"field": "b"},
            "y": {"datum": 0.002, "type": "quantitative", "axis": {"orient": "right", "labels": false, "title": null, "values": [0, 0.2, 0.4, 0.6, 0.8, 1]}}
          }
        }
      ]
    }
  ]
}
